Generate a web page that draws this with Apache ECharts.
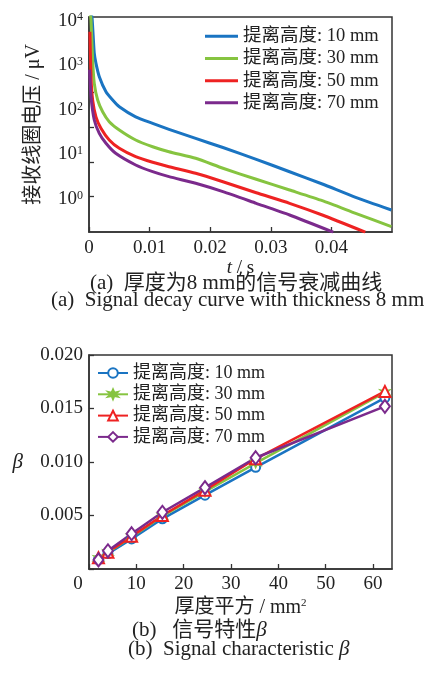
<!DOCTYPE html>
<html><head><meta charset="utf-8">
<script src="https://cdn.jsdelivr.net/npm/echarts@6/dist/echarts.min.js"></script>
<style>html,body{margin:0;padding:0;background:#fff}#c{width:434px;height:680px}</style>
</head><body><div id="c"></div>
<script>
// ---------- data ----------
const liftNames = ['提离高度: 10 mm', '提离高度: 30 mm', '提离高度: 50 mm', '提离高度: 70 mm'];

// (a) decay curves: [t (s), voltage (μV)]
const decay10 = [[0.0003,15000],[0.0005,12000],[0.00087,1870],[0.00115,1110],[0.0017,556],[0.0028,256],[0.0039,167],[0.005,118],[0.0077,70],[0.0105,50],[0.0132,36.7],[0.0176,22.9],[0.0221,14.3],[0.0276,7.78],[0.0331,4.09],[0.0385,2.17],[0.044,1.09],[0.0499,0.567]];
const decay30 = [[0.0002,15000],[0.00033,10400],[0.0006,1320],[0.00087,395],[0.00143,167],[0.00225,91],[0.00334,54.5],[0.005,35.4],[0.0077,21.1],[0.0105,14.9],[0.0132,11.5],[0.0176,8.2],[0.0221,4.9],[0.0276,2.77],[0.0331,1.59],[0.0385,0.916],[0.044,0.477],[0.0499,0.239]];
const decay50 = [[0.00015,5700],[0.00033,556],[0.0006,167],[0.00115,70],[0.00197,38.6],[0.00334,21.1],[0.005,13.7],[0.0077,8.9],[0.0105,6.66],[0.0132,5.31],[0.0176,3.78],[0.0221,2.44],[0.0276,1.38],[0.0331,0.80],[0.0385,0.437],[0.0456,0.18]];
const decay70 = [[0.0001,800],[0.00033,198],[0.00087,59.3],[0.0017,29.8],[0.0028,17.8],[0.0044,10.6],[0.0077,5.8],[0.0105,4.1],[0.0132,3.17],[0.0176,2.25],[0.0221,1.46],[0.0276,0.80],[0.0331,0.437],[0.0403,0.18]];
const yDecades = [1, 10, 100, 1000, 10000];
const yTickValues = [1486, 243, 40.7, 6.77, 1.126];

// (b) signal characteristic beta vs thickness squared
const thicknessSq = [2.0, 4.0, 9.0, 15.5, 24.5, 35.2, 62.5];
const beta10 = [0.00087, 0.00144, 0.00281, 0.00469, 0.0069, 0.0095, 0.0160];
const beta30 = [0.00100, 0.00155, 0.0030, 0.00494, 0.00722, 0.0099, 0.0165];
const beta50 = [0.00105, 0.00156, 0.00305, 0.0050, 0.00737, 0.0103, 0.0166];
const beta70 = [0.00085, 0.0017, 0.0033, 0.0053, 0.0076, 0.0104, 0.0152];

// ---------- style ----------
const FONT = "'Liberation Serif','Times New Roman','Noto Sans CJK SC',serif";
const AX = '#333';
const COLORS = ['#1a74c2', '#86c440', '#ee2222', '#7b2a8c'];
const TXT = '#222';

const decaySets = [decay10, decay30, decay50, decay70];
const betaSets = [beta10, beta30, beta50, beta70];
const symbols = ['emptyCircle', 'path://M0,-10 L2.5,-3.5 L9,-5 L4.5,0 L9,5 L2.5,3.5 L0,10 L-2.5,3.5 L-9,5 L-4.5,0 L-9,-5 L-2.5,-3.5 Z', 'emptyTriangle', 'emptyDiamond'];
const symSizes = [9, 9, 11, [10, 13]];
const bNames = liftNames.map(n => 'b:' + n);

const series = [];
decaySets.forEach((d, i) => series.push({
  name: liftNames[i], type: 'line', xAxisIndex: 0, yAxisIndex: 0, data: d,
  symbol: 'none', showSymbol: false, smooth: 0.2, clip: true,
  lineStyle: {width: 3, color: COLORS[i], join: 'round'}, itemStyle: {color: COLORS[i]}
}));
betaSets.forEach((b, i) => series.push({
  name: bNames[i], type: 'line', xAxisIndex: 1, yAxisIndex: 1,
  data: thicknessSq.map((x, k) => [x, b[k]]),
  symbol: symbols[i], symbolSize: symSizes[i], showSymbol: true,
  lineStyle: {width: 2.5, color: COLORS[i]},
  itemStyle: {color: COLORS[i], borderColor: COLORS[i], borderWidth: 1.6}
}));

const axisCommon = {
  axisLine: {show: true, onZero: false, lineStyle: {color: AX, width: 1.5}},
  axisTick: {show: true, inside: true, length: 5, lineStyle: {color: AX, width: 1.3}},
  splitLine: {show: false},
  axisLabel: {color: TXT, fontSize: 19, fontFamily: FONT, margin: 6},
  nameTextStyle: {color: TXT, fontSize: 20, fontFamily: FONT}
};
const capStyle = {fontSize: 21, fontWeight: 'normal', color: TXT, fontFamily: FONT, lineHeight: 21,
  rich: {i: {fontSize: 21, fontStyle: 'italic', fontFamily: FONT, color: TXT}}};

const option = {
  animation: false,
  backgroundColor: '#fff',
  textStyle: {fontFamily: FONT, color: TXT},
  title: [
    {text: '(a)  厚度为8 mm的信号衰减曲线', left: 90, top: 273, padding: 0, textStyle: capStyle},
    {text: '(a)  Signal decay curve with thickness 8 mm', left: 51, top: 290, padding: 0, textStyle: capStyle},
    {text: '(b)   信号特性{i|β}', left: 132, top: 620, padding: 0, textStyle: capStyle},
    {text: '(b)  Signal characteristic {i|β}', left: 128, top: 639, padding: 0, textStyle: capStyle}
  ],
  grid: [
    {left: 89, top: 17, width: 303, height: 215, show: true, borderColor: AX, borderWidth: 1.5, backgroundColor: 'transparent'},
    {left: 89, top: 355, width: 303, height: 214, show: true, borderColor: AX, borderWidth: 1.5, backgroundColor: 'transparent'}
  ],
  legend: [
    {data: liftNames, orient: 'vertical', left: 205, top: 27, padding: 0,
     icon: 'rect', itemWidth: 33, itemHeight: 3, itemGap: 3.7,
     textStyle: {fontSize: 18.5, color: TXT, fontFamily: FONT, lineHeight: 18}},
    {data: bNames, orient: 'vertical', left: 97, top: 364, padding: 0,
     itemWidth: 30, itemHeight: 12, itemGap: 3.3,
     formatter: n => n.replace(/^b:/, ''),
     textStyle: {fontSize: 18, color: TXT, fontFamily: FONT, lineHeight: 18}}
  ],
  xAxis: [
    Object.assign({}, axisCommon, {
      type: 'value', gridIndex: 0, min: 0, max: 0.05, interval: 0.01,
      axisLabel: Object.assign({}, axisCommon.axisLabel, {showMaxLabel: false, margin: 7,
        formatter: v => v === 0 ? '0' : v.toFixed(2)}),
      name: '{i|t} / s', nameLocation: 'middle', nameGap: 20,
      nameTextStyle: {color: TXT, fontSize: 19, fontFamily: FONT, lineHeight: 19,
        rich: {i: {fontStyle: 'italic', fontSize: 19, fontFamily: FONT, color: TXT}}}
    }),
    Object.assign({}, axisCommon, {
      type: 'value', gridIndex: 1, min: 0, max: 64, interval: 10,
      axisLabel: Object.assign({}, axisCommon.axisLabel, {showMaxLabel: false,
        formatter: v => v === 0 ? '{z|0}' : String(v),
        rich: {z: {fontSize: 19, fontFamily: FONT, color: TXT, padding: [0, 22, 0, 0]}}}),
      name: '厚度平方 / mm{s|2}', nameLocation: 'middle', nameGap: 29,
      nameTextStyle: {color: TXT, fontSize: 20, fontFamily: FONT, lineHeight: 20,
        rich: {s: {fontSize: 11, fontFamily: FONT, color: TXT, verticalAlign: 'top'}}}
    })
  ],
  yAxis: [
    Object.assign({}, axisCommon, {
      type: 'log', logBase: 10, gridIndex: 0, min: 0.1816, max: 12170,
      axisTick: Object.assign({}, axisCommon.axisTick, {customValues: yTickValues}),
      axisLabel: Object.assign({}, axisCommon.axisLabel, {
        customValues: yDecades,
        formatter: v => {
          const l = Math.log10(v); const r = Math.round(l);
          if (Math.abs(l - r) > 1e-6) return '';
          return '10{s|' + r + '}';
        },
        rich: {s: {fontSize: 12, fontFamily: FONT, color: TXT, verticalAlign: 'top'}}
      }),
      name: '接收线圈电压 / μV', nameLocation: 'middle', nameGap: 45
    }),
    Object.assign({}, axisCommon, {
      type: 'value', gridIndex: 1, min: 0, max: 0.02, interval: 0.005,
      axisLabel: Object.assign({}, axisCommon.axisLabel, {
        formatter: v => v === 0 ? '' : v.toFixed(3)}),
      name: 'β', nameLocation: 'middle', nameGap: 66, nameRotate: 0,
      nameTextStyle: {color: TXT, fontSize: 21, fontFamily: FONT, fontStyle: 'italic'}
    })
  ],
  series: series
};

const chart = echarts.init(document.getElementById('c'), null, {renderer: 'canvas'});
chart.setOption(option);
</script>
</body></html>
